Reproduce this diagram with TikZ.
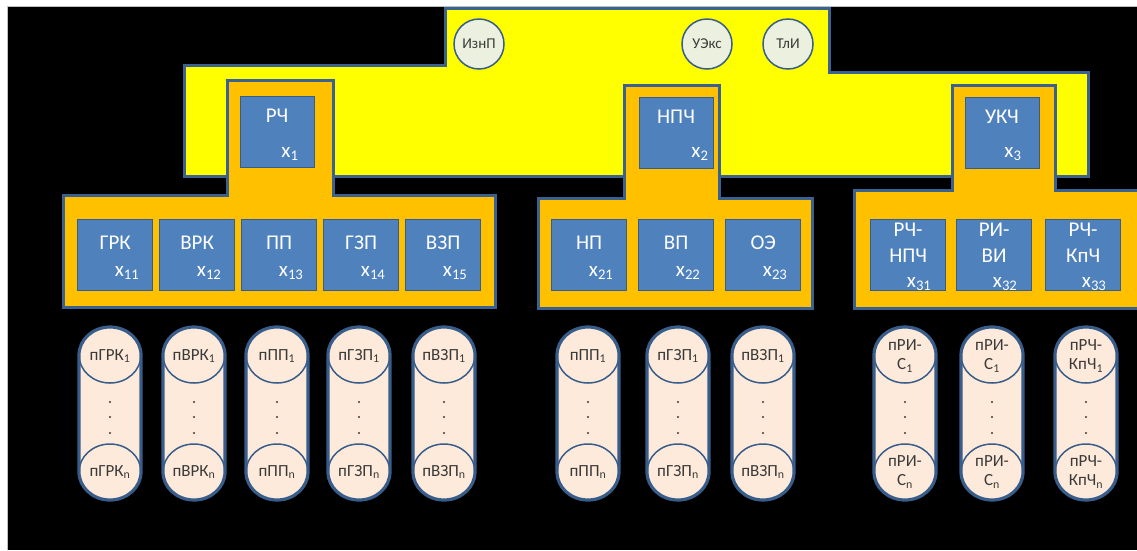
\documentclass[tikz,border=0pt]{standalone}
\usepackage{fontspec}
\setmainfont{Carlito}
\definecolor{yel}{HTML}{FFFF00}
\definecolor{org}{HTML}{FFC000}
\definecolor{bbox}{HTML}{4F81BD}
\definecolor{bline}{HTML}{385D8A}
\definecolor{oline}{HTML}{3B6190}
\definecolor{circfill}{HTML}{EBF1DE}
\definecolor{cylfill}{HTML}{FDEADA}
\definecolor{txt}{HTML}{3A3A3A}
\tikzset{
  region/.style={draw=oline, line width=3pt, line join=miter},
  yregion/.style={region, fill=yel},
  oregion/.style={region, fill=org},
  blk/.style={draw=bline, line width=1.3pt, fill=bbox, inner sep=0, minimum width=75pt, minimum height=71pt, anchor=north west},
  nm/.style={text=white, font=\fontsize{21}{26}\selectfont, inner sep=0, align=center},
  circ/.style={circle, draw=bline, line width=1.5pt, fill=circfill, minimum size=50pt, inner sep=0, text=txt, font=\fontsize{15}{16}\selectfont},
  cyltxt/.style={text=txt, font=\fontsize{17}{19}\selectfont, align=center, inner sep=0},
  cylout/.style={draw=bline, line width=3.2pt},
  cylin/.style={draw=bline, line width=1.5pt},
}
\newcommand\subbox[4]{%
  \node[blk] (#1) at (#2,219) {};
  \node[nm] (#1-n) at ([shift={(0,24)}]#1.north) {#3};
  \node[nm] (#1-x) at ([shift={(12,54)}]#1.north) {x\textsubscript{#4}};
}
\newcommand\subboxr[4]{%
  \node[blk] (#1) at (#2,219) {};
  \node[nm] (#1-n) at ([shift={(0,24)}]#1.north) {#3};
  \node[nm] (#1-x) at ([shift={(11,65)}]#1.north) {x\textsubscript{#4}};
}
\newcommand\cyl[4]{%
  \fill[cylfill] (#2-31,355) arc[start angle=180,end angle=0,x radius=31pt,y radius=28pt]
     -- (#2+31,472) arc[start angle=0,end angle=-180,x radius=31pt,y radius=28pt] -- cycle;
  \draw[cylin] (#2,355) ellipse[x radius=31pt,y radius=28pt];
  \draw[cylin] (#2,472) ellipse[x radius=31pt,y radius=28pt];
  \draw[cylout] (#2-31,355) arc[start angle=180,end angle=0,x radius=31pt,y radius=28pt]
     -- (#2+31,472) arc[start angle=0,end angle=-180,x radius=31pt,y radius=28pt] -- cycle;
  \fill[txt] (#2,402) circle[radius=1.2pt] (#2,417) circle[radius=1.2pt] (#2,433) circle[radius=1.2pt];
  \node[cyltxt] (#1-t) at (#2,356) {#3};
  \node[cyltxt] (#1-b) at (#2,472) {#4};
}
\begin{document}
\begin{tikzpicture}[x=1pt,y=-1pt]
\useasboundingbox (0,0) rectangle (1137,550);
\fill[white] (0,0) rectangle (1137,550);
\fill[black] (7,6) rectangle (1137,550);
\draw[gray!50, line width=0.8pt] (7,550) -- (7,6) -- (1137,6);

% yellow region
\draw[yregion] (445,8) -- (829,8) -- (829,72) -- (1088,72) -- (1088,176) -- (184,176) -- (184,65) -- (445,65) -- cycle;

% orange T regions
\draw[oregion] (227,80) -- (333,80) -- (333,195) -- (495,195) -- (495,307) -- (63,307) -- (63,195) -- (227,195) -- cycle;
\draw[oregion] (624,85) -- (719,85) -- (719,198) -- (812,198) -- (812,308) -- (538,308) -- (538,198) -- (624,198) -- cycle;
\draw[oregion] (952,85) -- (1055,85) -- (1055,190) -- (1141,190) -- (1141,308) -- (854,308) -- (854,190) -- (952,190) -- cycle;

% circles
\node[circ] (izn) at (479,44) {ИзнП};
\node[circ] (uex) at (707,44) {УЭкс};
\node[circ] (tli) at (788,44) {ТлИ};

% top boxes
\node[blk, minimum width=74pt] (rch) at (240,96) {};
\node[nm] (rch-n) at (277,116) {РЧ};
\node[nm] (rch-x) at (290,154) {x\textsubscript{1}};
\node[blk, minimum width=74pt] (npch) at (639,97) {};
\node[nm] (npch-n) at (676,117) {НПЧ};
\node[nm] (npch-x) at (700,154) {x\textsubscript{2}};
\node[blk, minimum width=74pt] (ukch) at (965,97) {};
\node[nm] (ukch-n) at (1002,117) {УКЧ};
\node[nm] (ukch-x) at (1013,154) {x\textsubscript{3}};

% second level boxes
\subbox{grk}{77}{ГРК}{11}
\subbox{vrk}{159}{ВРК}{12}
\subbox{pp}{241}{ПП}{13}
\subbox{gzp}{323}{ГЗП}{14}
\subbox{vzp}{405}{ВЗП}{15}
\subbox{np}{551}{НП}{21}
\subbox{vp}{638}{ВП}{22}
\subbox{oe}{725}{ОЭ}{23}
\subboxr{rchnpch}{870}{РЧ-\\НПЧ}{31}
\subboxr{riv}{956}{РИ-\\ВИ}{32}
\subboxr{rchkpch}{1045}{РЧ-\\КпЧ}{33}

% cylinders
\cyl{c1}{110}{пГРК\textsubscript{1}}{пГРК\textsubscript{n}}
\cyl{c2}{194}{пВРК\textsubscript{1}}{пВРК\textsubscript{n}}
\cyl{c3}{277}{пПП\textsubscript{1}}{пПП\textsubscript{n}}
\cyl{c4}{359}{пГЗП\textsubscript{1}}{пГЗП\textsubscript{n}}
\cyl{c5}{444}{пВЗП\textsubscript{1}}{пВЗП\textsubscript{n}}
\cyl{c6}{588}{пПП\textsubscript{1}}{пПП\textsubscript{n}}
\cyl{c7}{678}{пГЗП\textsubscript{1}}{пГЗП\textsubscript{n}}
\cyl{c8}{763}{пВЗП\textsubscript{1}}{пВЗП\textsubscript{n}}
\cyl{c9}{905}{пРИ-\\С\textsubscript{1}}{пРИ-\\С\textsubscript{n}}
\cyl{c10}{992}{пРИ-\\С\textsubscript{1}}{пРИ-\\С\textsubscript{n}}
\cyl{c11}{1086}{пРЧ-\\КпЧ\textsubscript{1}}{пРЧ-\\КпЧ\textsubscript{n}}
\end{tikzpicture}
\end{document}
